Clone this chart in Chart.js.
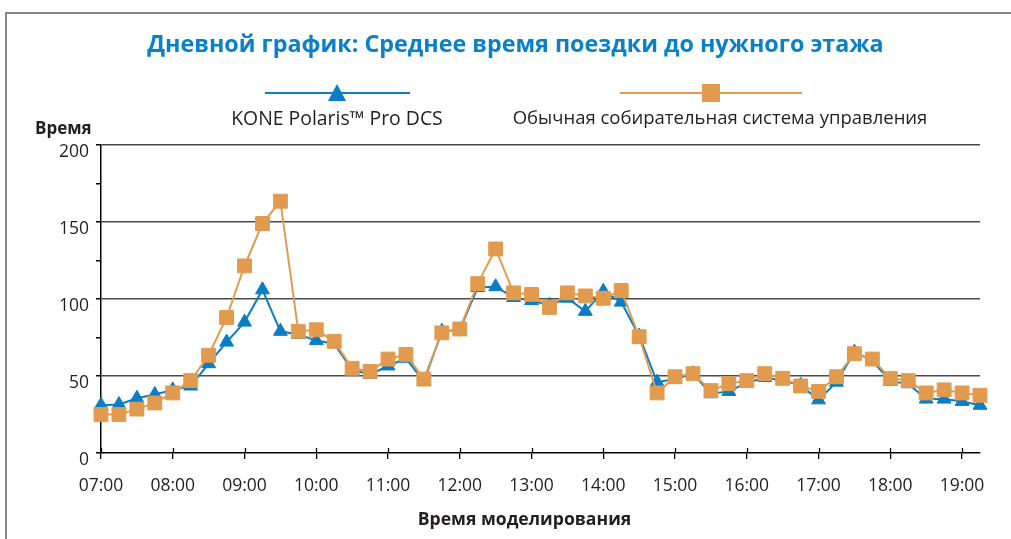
<!DOCTYPE html>
<html>
<head>
<meta charset="utf-8">
<script src="https://cdn.jsdelivr.net/npm/chart.js@4/dist/chart.umd.min.js"></script>
<style>
  html,body{margin:0;padding:0;background:#fff;overflow:hidden;}
  body{width:1011px;height:539px;position:relative;font-family:"Open Sans",sans-serif;color:#231f20;}
  #ftop{position:absolute;left:5px;top:12px;width:1006px;height:2px;background:#858585;}
  #fleft{position:absolute;left:5px;top:12px;width:2px;height:527px;background:#858585;}
  canvas{position:absolute;left:0;top:0;}
  .t{position:absolute;white-space:nowrap;line-height:1;}
  #title{left:0;width:1031px;text-align:center;top:32px;font-weight:700;font-size:23.3px;color:#0a80c8;}
  #ylab{left:35px;top:119px;font-weight:700;font-size:17px;}
  #xlab{left:0;width:1049px;text-align:center;top:510px;font-weight:700;font-size:17.6px;}
  .lg-line{position:absolute;height:2px;}
  .lg-text{position:absolute;text-align:center;width:600px;line-height:1;}
  #tri{position:absolute;width:0;height:0;border-left:9px solid transparent;border-right:9px solid transparent;border-bottom:17px solid #0a7dc4;left:328px;top:84px;}
  #sq{position:absolute;width:18px;height:18px;background:#e29b4e;left:702px;top:84px;}
</style>
</head>
<body>
<div id="ftop"></div>
<div id="fleft"></div>
<canvas id="c" width="1011" height="539"></canvas>
<div class="t" id="title">Дневной график: Среднее время поездки до нужного этажа</div>
<div class="lg-line" style="left:265px;width:145px;top:92px;background:#0a7dc4;"></div>
<div id="tri"></div>
<div class="lg-line" style="left:620px;width:182px;top:92px;background:#e29b4e;"></div>
<div id="sq"></div>
<div class="lg-text" style="left:37px;top:108px;font-size:19.4px;">KONE Polaris™ Pro DCS</div>
<div class="lg-text" style="left:420px;top:108px;font-size:18.5px;">Обычная собирательная система управления</div>
<div class="t" id="ylab">Время</div>
<div class="t" id="xlab">Время моделирования</div>
<script>
const timeLabels = [
  "07:00","07:15","07:30","07:45","08:00","08:15","08:30","08:45",
  "09:00","09:15","09:30","09:45","10:00","10:15","10:30","10:45",
  "11:00","11:15","11:30","11:45","12:00","12:15","12:30","12:45",
  "13:00","13:15","13:30","13:45","14:00","14:15","14:30","14:45",
  "15:00","15:15","15:30","15:45","16:00","16:15","16:30","16:45",
  "17:00","17:15","17:30","17:45","18:00","18:15","18:30","18:45",
  "19:00","19:15"
];
const koneValues = [
  31,31.5,35.5,38,41,43.5,58,72,85,106,
  79,77,73,71,54,51,56.5,61.5,46.5,79,
  80,107.5,108,101,99,96,100.5,92,105,98,
  76,46,48,51.5,38.5,40,45.5,49,47,44,
  34.5,46,65.5,60,46.5,45,35,35,33.5,31
];
const conventionalValues = [
  25,25,28.5,32.5,39,47,63.5,88,121.5,149,
  163.5,79,80,72.5,55,53,61,64,48,78,
  80.5,110,132.5,104,103,94.5,104,102,100.5,105.5,
  75.5,39,49.5,51.5,40.5,45,47,51.5,48.5,43.5,
  40,49.5,64.5,61,48.5,47,39,41,39,37.5
];
const seriesNames = ["KONE Polaris™ Pro DCS","Обычная собирательная система управления"];

const BLUE = "#0a7dc4";
const ORANGE = "#e29b4e";
const TXT = "#231f20";

const upTicks = {
  id:"upTicks",
  beforeDatasetsDraw(chart){
    const xs = chart.scales.x, ctx = chart.ctx, y0 = chart.chartArea.bottom;
    ctx.save();
    ctx.strokeStyle = "#000"; ctx.lineWidth = 1.3;
    timeLabels.forEach((l,i)=>{
      if(i%4!==0) return;
      const px = Math.round(xs.getPixelForValue(i))+0.5;
      ctx.beginPath(); ctx.moveTo(px,y0); ctx.lineTo(px,y0-5); ctx.stroke();
    });
    ctx.restore();
  }
};

new Chart(document.getElementById("c"),{
  type:"line",
  data:{
    labels: timeLabels,
    datasets:[
      {label:seriesNames[0], data:koneValues, borderColor:BLUE, backgroundColor:BLUE,
       borderWidth:2, pointStyle:"triangle", pointRadius:8, pointBorderWidth:1,
       pointBackgroundColor:BLUE, pointBorderColor:BLUE, tension:0, order:2},
      {label:seriesNames[1], data:conventionalValues, borderColor:ORANGE, backgroundColor:ORANGE,
       borderWidth:2, pointStyle:"rect", pointRadius:9.8, pointBorderWidth:1,
       pointBackgroundColor:ORANGE, pointBorderColor:ORANGE, tension:0, order:1}
    ]
  },
  options:{
    responsive:false, devicePixelRatio:1, animation:false,
    layout:{padding:{top:145,right:31,left:0,bottom:0}},
    plugins:{legend:{display:false}, title:{display:false}, tooltip:{enabled:false}},
    scales:{
      x:{
        type:"category", offset:false,
        border:{color:"#000", width:1.5},
        grid:{drawOnChartArea:false, drawTicks:true, tickLength:6,
              color:(c)=> (c.index%4===0 ? "#000":"transparent"),
              tickColor:(c)=> (c.index%4===0 ? "#000":"transparent"), lineWidth:1.3},
        ticks:{autoSkip:false, maxRotation:0, minRotation:0, padding:17, color:TXT,
               font:{family:"'Open Sans'", size:17.5},
               callback:(v,i)=> (i%4===0 ? timeLabels[i] : "")},
        afterFit:(s)=>{ s.height = 86; }
      },
      y:{
        min:0, max:200,
        border:{color:"#000", width:1.5},
        grid:{color:(c)=> (c.tick && c.tick.value%50===0 && c.tick.value>0 ? "#4a4a4a":"transparent"),
              tickColor:"#000", tickLength:5, lineWidth:1.5},
        ticks:{stepSize:25, padding:7, labelOffset:7, color:TXT,
               font:{family:"'Open Sans'", size:17.5},
               callback:(v)=> (v%50===0 ? String(v) : "")},
        afterFit:(s)=>{ s.width = 101; }
      }
    }
  },
  plugins:[upTicks]
});
</script>
</body>
</html>
